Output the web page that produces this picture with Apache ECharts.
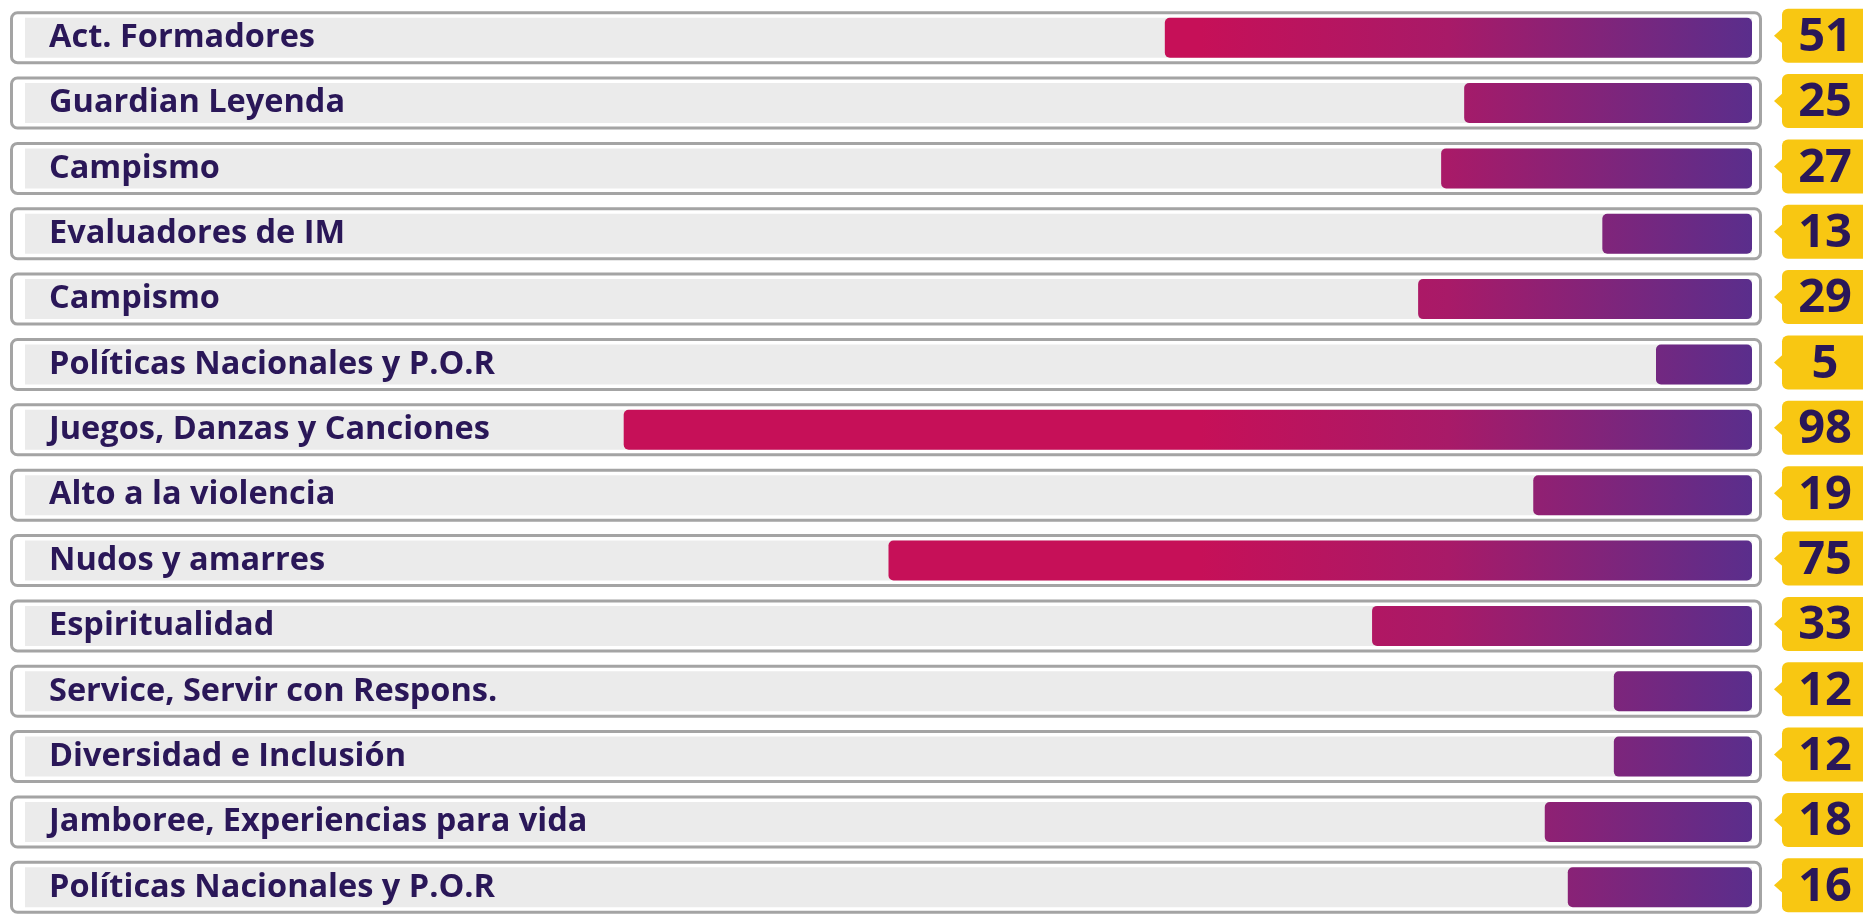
<!DOCTYPE html>
<html>
<head>
<meta charset="utf-8">
<script src="https://cdn.jsdelivr.net/npm/echarts@6/dist/echarts.min.js"></script>
<style>
  html, body { margin: 0; padding: 0; background: #fff; }
  #chart { width: 1863px; height: 920px; }
</style>
</head>
<body>
<div id="chart"></div>
<script>
// categorias (de arriba hacia abajo)
var categories = [
    'Act. Formadores',
    'Guardian Leyenda',
    'Campismo',
    'Evaluadores de IM',
    'Campismo',
    'Políticas Nacionales y P.O.R',
    'Juegos, Danzas y Canciones',
    'Alto a la violencia',
    'Nudos y amarres',
    'Espiritualidad',
    'Service, Servir con Respons.',
    'Diversidad e Inclusión',
    'Jamboree, Experiencias para vida',
    'Políticas Nacionales y P.O.R'
];
var values = [51, 25, 27, 13, 29, 5, 98, 19, 75, 33, 12, 12, 18, 16];

var AXIS_MAX = 150;
var TEXT = '#2a1758';
var YELLOW = '#f8c712';

var chart = echarts.init(document.getElementById('chart'));

// tres grids: marco, barras, etiquetas amarillas
var rowTop = 5, rowsHeight = 924;
var grids = [
    {left: 10, right: 101, top: rowTop, height: rowsHeight},
    {left: 25, right: 111, top: rowTop, height: rowsHeight},
    {left: 1774, right: 0, top: rowTop, height: rowsHeight}
];

function yAxisFor(i, show) {
    return {
        type: 'category',
        gridIndex: i,
        data: categories,
        inverse: true,
        show: show,
        z: 10,
        axisLine: {show: false},
        axisTick: {show: false},
        axisLabel: {
            inside: true,
            margin: 24,
            color: TEXT,
            fontFamily: 'Open Sans',
            fontWeight: 'bold',
            fontSize: 32.5
        }
    };
}

var option = {
    backgroundColor: '#ffffff',
    animation: false,
    grid: grids,
    xAxis: [
        {type: 'value', gridIndex: 0, min: 0, max: AXIS_MAX, inverse: true, show: false},
        {type: 'value', gridIndex: 1, min: 0, max: AXIS_MAX, inverse: true, show: false},
        {type: 'value', gridIndex: 2, min: 0, max: 1, show: false}
    ],
    yAxis: [yAxisFor(0, false), yAxisFor(1, true), yAxisFor(2, false)],
    series: [
        {
            // marco gris de cada fila
            type: 'bar',
            xAxisIndex: 0,
            yAxisIndex: 0,
            z: 1,
            barWidth: 53,
            silent: true,
            itemStyle: {
                color: '#ffffff',
                borderColor: '#a4a4a4',
                borderWidth: 3,
                borderRadius: 6
            },
            data: categories.map(function () { return AXIS_MAX; })
        },
        {
            type: 'bar',
            xAxisIndex: 1,
            yAxisIndex: 1,
            z: 3,
            barWidth: 40,
            barMinHeight: 96,
            showBackground: true,
            backgroundStyle: {color: '#ebebeb'},
            itemStyle: {
                borderRadius: 5,
                color: new echarts.graphic.LinearGradient(1200, 0, 1752, 0, [
                    {offset: 0, color: '#c61058'},
                    {offset: 0.45, color: '#a81a68'},
                    {offset: 1, color: '#5a2e8c'}
                ], true)
            },
            data: values
        },
        {
            // etiquetas amarillas con el valor
            type: 'custom',
            xAxisIndex: 2,
            yAxisIndex: 2,
            z: 3,
            encode: {x: 0, y: 1},
            renderItem: function (params, api) {
                var p = api.coord([0, api.value(1)]);
                var x = p[0], y = p[1] - 2;
                return {
                    type: 'group',
                    children: [
                        {
                            type: 'polygon',
                            shape: {points: [[x, y], [x + 10, y - 9], [x + 10, y + 9]]},
                            style: {fill: YELLOW}
                        },
                        {
                            type: 'rect',
                            shape: {x: x + 8, y: y - 27, width: 100, height: 54, r: 6},
                            style: {fill: YELLOW}
                        },
                        {
                            type: 'text',
                            style: {
                                text: String(api.value(2)),
                                x: x + 51,
                                y: y + 2,
                                align: 'center',
                                verticalAlign: 'middle',
                                font: 'bold 47px "Open Sans"',
                                fill: TEXT
                            }
                        }
                    ]
                };
            },
            data: values.map(function (v, i) { return [0, i, v]; })
        }
    ]
};

chart.setOption(option);
</script>
</body>
</html>
